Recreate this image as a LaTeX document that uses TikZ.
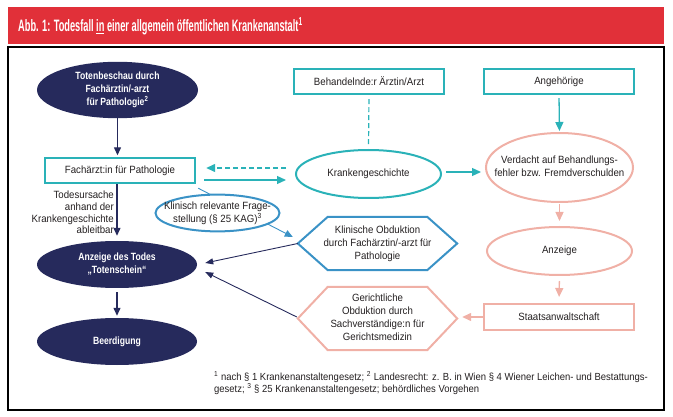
\documentclass[tikz,border=0pt]{standalone}
\usepackage{fontspec}
\setmainfont{Liberation Sans}[FakeStretch=0.92, BoldFeatures={FakeStretch=0.82}]
\newfontfamily\titlefont{Liberation Sans}[FakeStretch=0.56, BoldFeatures={FakeStretch=0.56}]
\usetikzlibrary{arrows.meta,shapes.geometric}
\definecolor{redc}{RGB}{225,48,57}
\definecolor{navy}{RGB}{38,42,92}
\definecolor{tealc}{RGB}{42,178,184}
\definecolor{bluec}{RGB}{58,146,198}
\definecolor{salc}{RGB}{240,176,166}
\definecolor{txtdark}{RGB}{35,31,32}
\newcommand{\zw}[1]{\makebox[0pt]{\begin{tabular}{@{}c@{}}#1\end{tabular}}}
\tikzset{
  txt/.style={font=\fontsize{10.5}{13}\selectfont, text=txtdark, inner sep=0pt},
  tealbox/.style={txt, draw=tealc, line width=2.4pt, minimum width=150pt, minimum height=25pt, fill=white},
  salbox/.style={txt, draw=salc, line width=2pt, minimum width=150pt, minimum height=26pt},
  navyell/.style={ellipse, fill=navy, text=white, font=\fontsize{10.5}{13.3}\selectfont\bfseries, minimum width=160pt, minimum height=47pt, inner sep=0pt},
  tealell/.style={ellipse, txt, draw=tealc, line width=2pt},
  salell/.style={ellipse, txt, draw=salc, line width=2pt},
  blueell/.style={ellipse, txt, draw=bluec, line width=2pt, fill=white},
  hexnode/.style={txt, minimum width=159pt, inner sep=0pt},
  navyarr/.style={draw=navy, line width=1.3pt, -{Triangle[length=8pt,width=7pt]}},
  navythin/.style={draw=navy, line width=0.9pt, -{Triangle[length=8pt,width=6pt]}},
  tealarr/.style={draw=tealc, line width=1.3pt, -{Triangle[length=9pt,width=8pt]}},
  salarr/.style={draw=salc, line width=1.3pt, -{Triangle[length=9pt,width=8pt]}},
  bluearr/.style={draw=bluec, line width=0.9pt, -{Triangle[length=8pt,width=7pt]}},
  tealdash/.style={dash pattern=on 5pt off 3pt},
}
\begin{document}
\begin{tikzpicture}[x=1pt,y=-1pt]
\useasboundingbox (0,0) rectangle (673,417);
% header and frame
\fill[redc] (8,7) rectangle (664,44);
\node[anchor=west, text=white, inner sep=0pt, font=\fontsize{16.5}{18}\titlefont\bfseries] (title) at (18,26)
  {Abb. 1: Todesfall \underline{in} einer allgemein öffentlichen Krankenanstalt\textsuperscript{1}};
\draw[black, line width=1.2pt] (8,47) rectangle (664,410);

% nodes
\node[navyell, minimum width=161pt, minimum height=54pt] (toten) at (117.5,90)
  {\zw{Totenbeschau durch\\Fachärztin/-arzt\\für Pathologie\textsuperscript{2}}};
\node[tealbox] (fach) at (120,170.5) {Fachärzt:in für Pathologie};
\node[navyell] (anz) at (117,264.5) {\zw{Anzeige des Todes\\„Totenschein“}};
\node[navyell] (beerd) at (117,341.5) {Beerdigung};
\node[tealbox] (behand) at (369,81.5) {Behandelnde:r Ärztin/Arzt};
\node[tealbox] (angeh) at (559,81.5) {Angehörige};
\node[tealell, minimum width=145pt, minimum height=48pt] (kranken) at (368.5,174) {Krankengeschichte};
\node[salell, minimum width=147pt, minimum height=69pt] (verdacht) at (559.5,167.5)
  {\zw{Verdacht auf Behandlungs-\\fehler bzw. Fremdverschulden}};
\node[salell, minimum width=145pt, minimum height=48pt] (anzeige) at (559.5,251) {Anzeige};
\node[salbox] (staat) at (559,317) {Staatsanwaltschaft};
\node[hexnode, minimum height=53pt] (klinobd) at (377.5,243.5)
  {\zw{Klinische Obduktion\\durch Fachärztin/-arzt für\\Pathologie}};
\node[hexnode, minimum height=63pt] (gericht) at (377.5,318.5)
  {\zw{Gerichtliche\\Obduktion durch\\Sachverständige:n für\\Gerichtsmedizin}};
\draw[bluec, line width=2pt, line join=miter] (klinobd.west) -- ([xshift=30pt]klinobd.north west) -- ([xshift=-30pt]klinobd.north east)
  -- (klinobd.east) -- ([xshift=-30pt]klinobd.south east) -- ([xshift=30pt]klinobd.south west) -- cycle;
\draw[salc, line width=2pt, line join=miter] (gericht.west) -- ([xshift=30pt]gericht.north west) -- ([xshift=-30pt]gericht.north east)
  -- (gericht.east) -- ([xshift=-30pt]gericht.south east) -- ([xshift=30pt]gericht.south west) -- cycle;

% label
\node[txt, font=\fontsize{10.5}{11.7}\selectfont, align=right, anchor=east] (lbl) at (114,212.5)
  {Todesursache\\anhand der\\Krankengeschichte\\ableitbar};

% connectors
\draw[navyarr, shorten >=1.5pt] (toten.south) -- (toten.south |- fach.north);
\draw[navyarr, shorten >=5pt] (anz.north |- fach.south) -- (anz.north);
\draw[navyarr, shorten <=4pt, shorten >=2pt] (anz.south) -- (beerd.north);
\draw[tealc, line width=1.2pt, tealdash, shorten <=4pt, shorten >=4pt] (behand.south) -- (kranken.north);
\draw[tealarr, tealdash] ([shift={(-9,-6)}]kranken.west) -- ([shift={(10,-2.5)}]fach.east);
\draw[tealarr] ([shift={(8,9.5)}]fach.east) -- ([shift={(-9,6)}]kranken.west);
\draw[tealarr] ([shift={(4,-2)}]kranken.east) -- ([shift={(-4,4.5)}]verdacht.west);
\draw[tealarr, shorten <=3pt, shorten >=1pt] (angeh.south) -- (verdacht.north);
\draw[salarr, shorten <=1pt, shorten >=5pt] (verdacht.south) -- (anzeige.north);
\draw[salarr, shorten <=5pt, shorten >=6pt] (anzeige.south) -- (staat.north);
\draw[salarr, shorten >=5pt] (staat.west) -- (staat.west -| gericht.east);
\draw[bluearr] ([shift={(2,4)}]fach.south east) -- ([shift={(-5,-6.5)}]klinobd.west);
\node[blueell, minimum width=124pt, minimum height=31pt] (klinrel) at (217.5,213)
  {\zw{Klinisch relevante Frage-\\stellung (§ 25 KAG)\textsuperscript{3}}};
\draw[navythin] (klinobd.west) -- ([shift={(8,-1.5)}]anz.east);
\draw[navythin] ([shift={(-1,-1.5)}]gericht.west) -- ([shift={(8,7.5)}]anz.east);

% footnote
\node[txt, font=\fontsize{10.3}{12}\selectfont, align=left, anchor=west] (fn) at (214,383)
  {\textsuperscript{1} nach § 1 Krankenanstaltengesetz; \textsuperscript{2} Landesrecht: z. B. in Wien § 4 Wiener Leichen- und Bestattungs-\\
   gesetz; \textsuperscript{3} § 25 Krankenanstaltengesetz; behördliches Vorgehen};
\end{tikzpicture}
\end{document}
